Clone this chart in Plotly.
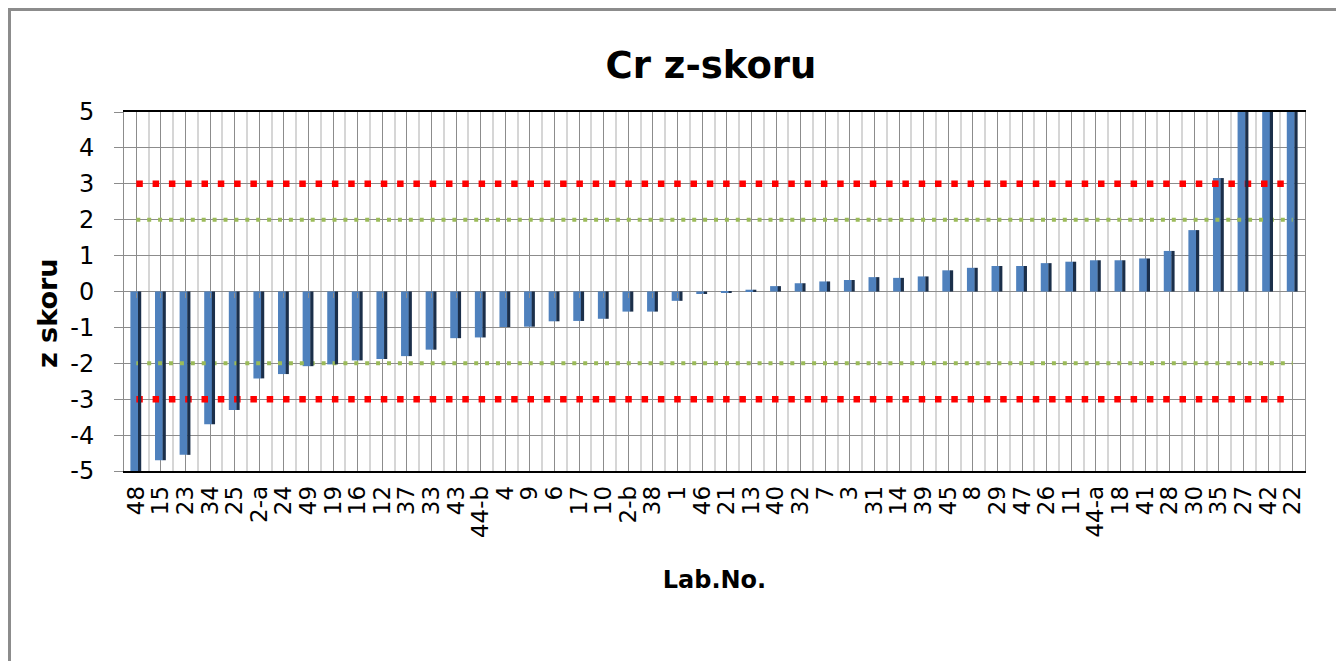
import plotly.graph_objects as go

labs = ["48", "15", "23", "34", "25", "2-a", "24", "49", "19", "16", "12", "37",
        "33", "43", "44-b", "4", "9", "6", "17", "10", "2-b", "38", "1", "46",
        "21", "13", "40", "32", "7", "3", "31", "14", "39", "45", "8", "29",
        "47", "26", "11", "44-a", "18", "41", "28", "30", "35", "27", "42", "22"]
zvals = [-5.4, -4.70, -4.55, -3.70, -3.30, -2.42, -2.30, -2.08, -2.03, -1.92, -1.88, -1.80,
         -1.62, -1.30, -1.28, -0.99, -0.98, -0.83, -0.82, -0.76, -0.56, -0.56, -0.26, -0.07,
         -0.02, 0.05, 0.15, 0.23, 0.28, 0.32, 0.40, 0.38, 0.42, 0.59, 0.66, 0.71,
         0.71, 0.79, 0.83, 0.87, 0.87, 0.92, 1.13, 1.71, 3.16, 6.2, 6.8, 7.5]
warn_lim = [2, -2]
act_lim = [3, -3]
ytickvals = [-5, -4, -3, -2, -1, 0, 1, 2, 3, 4, 5]
yticktext = ["-5", "-4", "-3", "-2", "-1", "0", "1", "2", "3", "4", "5"]

W, H = 1336, 653
L, R, T, B = 116, 39, 104, 190
PW, PH = W - L - R, H - T - B

fig = go.Figure()

# main (front) face of bars
fig.add_trace(go.Bar(x=labs, y=zvals, width=0.32, offset=-0.24,
                     marker=dict(color="#4F81BD", line=dict(width=0)),
                     xaxis="x", showlegend=False))
# dark side of bars (3D look)
fig.add_trace(go.Bar(x=labs, y=zvals, width=0.13, offset=0.07,
                     marker=dict(color="#1B2F4A", line=dict(width=0)),
                     xaxis="x2", showlegend=False))

for v in act_lim:
    fig.add_trace(go.Scatter(x=[labs[0], labs[-1]], y=[v, v], mode="lines",
                             line=dict(color="#FF0000", width=6.5, dash="6.5px,9.8px"),
                             xaxis="x", showlegend=False))
for v in warn_lim:
    fig.add_trace(go.Scatter(x=[labs[0], labs[-1]], y=[v, v], mode="lines",
                             line=dict(color="#9BBB59", width=4, dash="4px,6.9px"),
                             xaxis="x", showlegend=False))

fig.update_layout(
    width=W, height=H,
    margin=dict(l=L, r=R, t=T, b=B),
    paper_bgcolor="white", plot_bgcolor="white",
    barmode="overlay",
    title=dict(text="<b>Cr z-skoru</b>", x=(711 - 8) / W, xanchor="center",
               y=1 - 57 / H, yanchor="middle",
               font=dict(family="DejaVu Sans", size=37, color="black")),
    xaxis=dict(type="category", categoryorder="array", categoryarray=labs,
               range=[-0.5, len(labs) - 0.5],
               tickmode="linear", tick0=0, dtick=1,
               tickson="boundaries", showgrid=True, gridcolor="#D6D6D6", gridwidth=2,
               ticks="", tickangle=-90, ticklabelstandoff=4,
               tickfont=dict(family="DejaVu Sans", size=23, color="black"),
               showline=True, linecolor="black", linewidth=1.5, mirror=True,
               title=dict(text="<b>Lab.No.</b>", standoff=34,
                          font=dict(family="DejaVu Sans", size=24, color="black"))),
    xaxis2=dict(type="category", categoryorder="array", categoryarray=labs,
                range=[-0.5, len(labs) - 0.5], overlaying="x",
                anchor="free", position=0.5,
                tickmode="linear", tick0=0, dtick=1,
                showgrid=True, gridcolor="#8C8C8C", gridwidth=1,
                showticklabels=False, ticks="outside", ticklen=5,
                tickcolor="#8C8C8C", showline=False),
    yaxis=dict(range=[-5, 5], tickmode="array", tickvals=ytickvals, ticktext=yticktext,
               showgrid=True, gridcolor="#8C8C8C",
               gridwidth=1, zeroline=False,
               ticks="outside", ticklen=9, tickcolor="#8C8C8C",
               showline=True, linecolor="#8C8C8C", mirror=True,
               ticklabelstandoff=15,
               tickfont=dict(family="DejaVu Sans", size=24, color="black")),
    annotations=[dict(text="<b>z skoru</b>", textangle=-90, showarrow=False,
                      xref="paper", yref="paper",
                      x=(47 - 8 - L) / PW, y=(PH + T - (313 - 8)) / PH,
                      xanchor="center", yanchor="middle",
                      font=dict(family="DejaVu Sans", size=27, color="black"))],
    shapes=[dict(type="rect", xref="paper", yref="paper",
                 x0=(1.5 - L) / PW, x1=(1335 - L) / PW,
                 y0=(PH - 700) / PH, y1=(PH + T - 1.5) / PH,
                 line=dict(color="#8C8C8C", width=3), layer="below")],
)

fig.write_html("out.html")
